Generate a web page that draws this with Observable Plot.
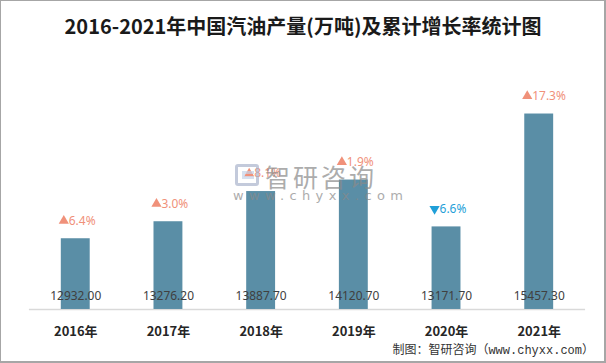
<!DOCTYPE html>
<html>
<head>
<meta charset="utf-8">
<script src="https://cdn.jsdelivr.net/npm/d3@7"></script>
<script src="https://cdn.jsdelivr.net/npm/@observablehq/plot@0.6"></script>
<style>
  html, body { margin: 0; padding: 0; background: #fff; }
  #frame { position: relative; width: 606px; height: 363px; box-sizing: border-box; border: 1px solid #a6a6a6; border-right-width: 2px; border-bottom-width: 2px; overflow: hidden; }
  #title { position: absolute; left: 0; top: 11px; width: 604px; text-align: center; font-family: "Noto Sans CJK SC", sans-serif; font-size: 20px; font-weight: 700; color: #1a1a1a; line-height: 28px; }
  #chart { position: absolute; left: -1px; top: -1px; }
  #footer { position: absolute; right: 10px; bottom: 3px; font-family: "Liberation Mono", "Noto Sans CJK SC", monospace; font-size: 12px; color: #333; }
  #wm { position: absolute; left: 232px; top: 160px; opacity: 0.7; pointer-events: none; }
  #wm .big { position: absolute; left: 32px; top: 0px; font-family: "Noto Sans CJK SC", sans-serif; font-size: 25px; color: #8a8a8a; letter-spacing: 3px; line-height: 30px; white-space: nowrap; }
  #wm .small { position: absolute; left: 0px; top: 27px; font-family: "DejaVu Sans", sans-serif; font-size: 13px; color: #8a8a8a; letter-spacing: 5.4px; white-space: nowrap; }
  #wm .logo { position: absolute; left: 2px; top: 3px; width: 24px; height: 22px; border: 3px solid #aab4cc; border-radius: 3px; box-sizing: border-box; }
  #wm .logo2 { position: absolute; left: 9px; top: 10px; width: 12px; height: 8px; border: 3px solid #c5d3ea; border-right: none; box-sizing: border-box; }
</style>
</head>
<body>
<div id="frame">
  <div id="chart"></div>
  <div id="title">2016-2021年中国汽油产量(万吨)及累计增长率统计图</div>
  <div id="wm"><div class="logo"></div><div class="logo2"></div><div class="big">智研咨询</div><div class="small">www.chyxx.com</div></div>
  <div id="footer">制图：智研咨询（www.chyxx.com）</div>
</div>
<script>
const years = ["2016", "2017", "2018", "2019", "2020", "2021"];
const production = [12932.00, 13276.20, 13887.70, 14120.70, 13171.70, 15457.30];
const growth = [6.4, 3.0, 8.1, 1.9, -6.6, 17.3];
const yMin = 11500;
const yMax = 16000;

const data = years.map((y, i) => ({year: y, value: production[i], growth: growth[i]}));
const up = "#f0917a", down = "#1f9fd8";

const chart = Plot.plot({
  width: 606,
  height: 363,
  marginTop: 87,
  marginBottom: 53,
  marginLeft: 29,
  marginRight: 19,
  x: {domain: years, paddingInner: 0.688, paddingOuter: 0.344, label: null},
  y: {domain: [yMin, yMax], axis: null},
  style: {fontFamily: "Noto Sans, sans-serif", background: "transparent"},
  marks: [
    Plot.ruleY([yMin], {stroke: "#d9d9d9", strokeWidth: 1.5}),
    Plot.barY(data, {x: "year", y1: () => yMin, y2: "value", fill: "#5a8ea6"}),
    Plot.text(data, {x: "year", y: () => yMin, dy: -13, text: d => d.value.toFixed(2), fontSize: 12, fill: "#404040", fontFamily: "Noto Sans"}),
    Plot.dot(data, {x: "year", y: "value", dx: -12, dy: -18, symbol: "triangle", r: 3.8, rotate: d => d.growth >= 0 ? 0 : 180, fill: d => d.growth >= 0 ? up : down, stroke: null}),
    Plot.text(data, {x: "year", y: "value", dx: -7, dy: -18, textAnchor: "start", text: d => Math.abs(d.growth).toFixed(1) + "%", fontSize: 12, fill: d => d.growth >= 0 ? up : down, fontFamily: "Noto Sans"}),
    Plot.axisX({tickSize: 0, tickPadding: 17, tickFormat: d => d + "年", fontSize: 13, fontWeight: "bold", fill: "#262626", fontFamily: "Noto Sans CJK SC", label: null})
  ]
});
document.getElementById("chart").appendChild(chart);
</script>
</body>
</html>
